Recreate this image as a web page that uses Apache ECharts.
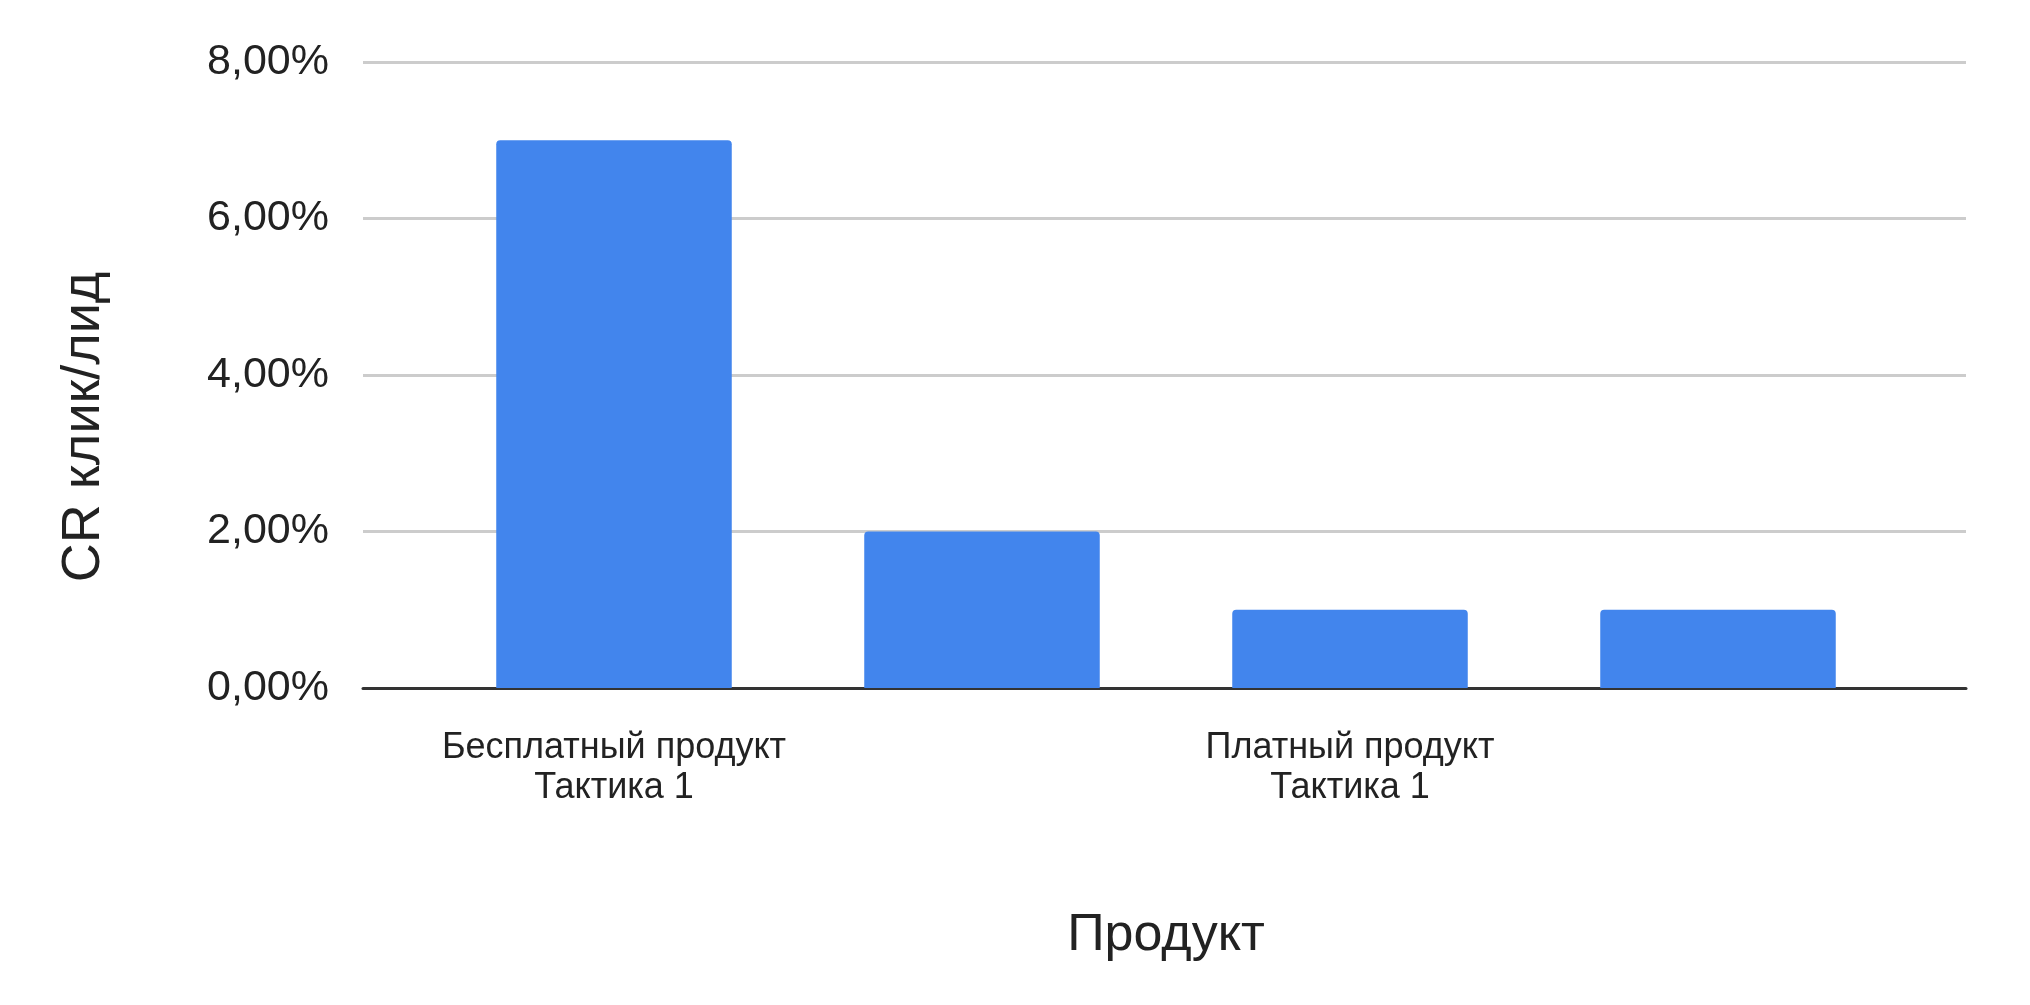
<!DOCTYPE html><html><head><meta charset="utf-8"><script src="https://cdn.jsdelivr.net/npm/echarts@6/dist/echarts.min.js"></script>
<style>html,body{margin:0;background:#fff}#c{width:2030px;height:1005px}</style></head><body><div id="c"></div><script>
const categories=["Бесплатный продукт\nТактика 1","Бесплатный продукт\nТактика 2","Платный продукт\nТактика 1","Платный продукт\nТактика 2"];
const values=[7.0,2.0,1.0,1.0];
const yTitle='CR клик/лид';
const chart=echarts.init(document.getElementById('c'));
chart.setOption({
 animation:false,
 grid:[{left:363,right:64,top:62,bottom:317},{left:430,right:128,top:62,bottom:317}],
 xAxis:[{type:'category',gridIndex:0,data:categories,show:true,axisLabel:{show:false},axisTick:{show:false},
   axisLine:{lineStyle:{color:'#333',width:3}}},
  {type:'category',gridIndex:1,data:categories,position:'bottom',name:'Продукт',nameLocation:'middle',nameGap:222,
  nameTextStyle:{fontFamily:'Liberation Sans',fontSize:52,color:'#222'},
  axisTick:{show:false},axisLine:{show:false},
  axisLabel:{fontFamily:'Liberation Sans',fontSize:36,color:'#222',lineHeight:40,margin:40}}],
 yAxis:[{type:'value',gridIndex:0,min:0,max:8,interval:2,
  axisLabel:{fontFamily:'Liberation Sans',fontSize:43,color:'#222',margin:34,formatter:v=>v.toFixed(2).replace('.',',')+'%'},
  splitLine:{lineStyle:{color:'#ccc',width:3}}},
  {type:'value',gridIndex:1,min:0,max:8,interval:2,show:false,splitLine:{show:false}}],
 graphic:[{type:'text',x:84,y:427,rotation:Math.PI/2,style:{text:yTitle,font:'54px "Liberation Sans"',fill:'#222',align:'center',verticalAlign:'middle'}}],
 series:[{type:'bar',xAxisIndex:1,yAxisIndex:1,data:values,barWidth:'64%',itemStyle:{color:'#4285ed',borderRadius:[4,4,0,0]}}]
});
</script></body></html>
